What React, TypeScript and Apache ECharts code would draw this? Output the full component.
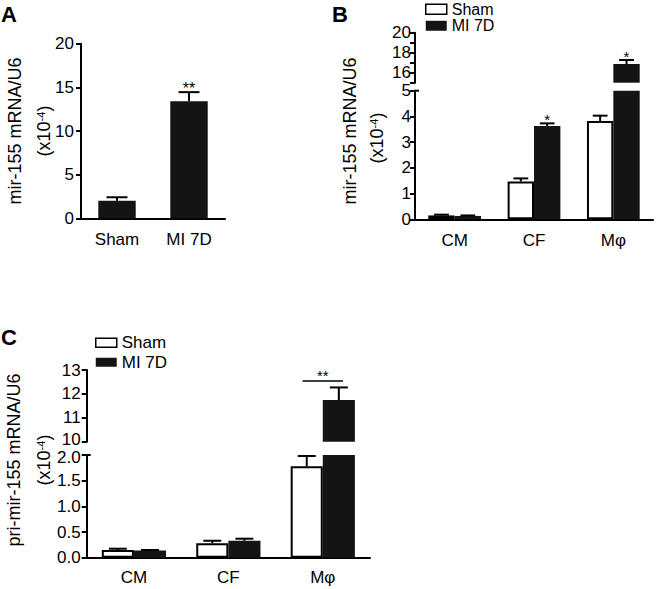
import React, { useEffect, useRef } from 'react';
import * as echarts from 'echarts';

const FONT = '"Liberation Sans", Arial, Helvetica, sans-serif';
const BLACK = '#141414';

// ---------- Panel A data ----------
const aCategories = ['Sham', 'MI 7D'];
const aValues = [2.0, 13.4];
const aErrors = [0.41, 1.05];
const aSig = ['', '**'];
const aTicks = { min: 0, max: 20, step: 5 };

// ---------- Panel B data ----------
const cellTypes = ['CM', 'CF', 'Mφ'];
const bSham = [0.15, 1.47, 3.82];
const bShamErr = [0.03, 0.12, 0.21];
const bMI = [0.13, 3.63, 16.87];
const bMIErr = [0.02, 0.1, 0.4];
const bShamSig = ['', '', ''];
const bMISig = ['', '*', '*'];
const bLowerTicks = { min: 0, max: 5, step: 1 };
const bUpperTicks = { min: 15, max: 20, step: 1, labelEvery: 2 };

// ---------- Panel C data ----------
const cSham = [0.15, 0.28, 1.78];
const cShamErr = [0.025, 0.05, 0.2];
const cMI = [0.14, 0.33, 11.74];
const cMIErr = [0.01, 0.04, 0.53];
const cNoSig = ['', '', ''];
const cBracketSig = ['', '', '**'];
const cLowerTicks = { min: 0, max: 2, step: 0.5 };
const cUpperTicks = { min: 10, max: 13, step: 1 };

// ---------- layout ----------
const GRID_A = { left: 81, top: 43.7, width: 144, height: 174.6 };
const GRID_BU = { left: 415, top: 32.7, width: 238, height: 50 };
const GRID_BL = { left: 415, top: 90.7, width: 238, height: 128.6 };
const GRID_CU = { left: 86.7, top: 370, width: 283.3, height: 71.7 };
const GRID_CL = { left: 86.7, top: 455, width: 283.3, height: 102.7 };
const GAP_A = 0.48;
const GAP_B = 0.335;
const GAP_C = 0.32;
const TICK_FS = 17;
const TITLE_FS = 18;

function yAxis(gridIndex: number, r: any, margin: number, formatter?: any, rich?: any) {
  return {
    type: 'value',
    gridIndex,
    min: r.min,
    max: r.max,
    interval: r.step,
    axisLine: { show: true, lineStyle: { color: '#000', width: 2 } },
    axisTick: { show: true, length: 5, lineStyle: { color: '#000', width: 2 } },
    splitLine: { show: false },
    axisLabel: { color: '#000', fontSize: TICK_FS, fontFamily: FONT, margin, formatter, rich },
  };
}

function xAxis(gridIndex: number, cats: string[], show: boolean, margin: number) {
  return {
    type: 'category',
    gridIndex,
    data: cats,
    show,
    axisLine: { show: true, lineStyle: { color: '#000', width: 2 } },
    axisTick: { show: false },
    axisLabel: { color: '#000', fontSize: TICK_FS, fontFamily: FONT, margin },
  };
}

function errorSeries(o: any) {
  const { axisIndex, values, errs, sigs, slot, nSlots, gap, include, sigSize } = o;
  const data: number[][] = [];
  values.forEach((v: number, i: number) => {
    if (include(v, errs[i])) data.push([i, v, v + errs[i]]);
  });
  return {
    type: 'custom',
    name: 'err',
    xAxisIndex: axisIndex,
    yAxisIndex: axisIndex,
    z: 5,
    silent: true,
    data,
    renderItem: (params: any, api: any) => {
      const i = api.value(0);
      const v = api.value(1);
      const t = api.value(2);
      const band = api.size([1, 0])[0];
      const barW = (band * (1 - gap)) / nSlots;
      const p = api.coord([i, v]);
      const q = api.coord([i, t]);
      const cx = p[0] + (slot - (nSlots - 1) / 2) * barW;
      const half = barW * 0.28;
      const children: any[] = [
        { type: 'line', shape: { x1: cx, y1: p[1], x2: cx, y2: q[1] }, style: { stroke: '#000', lineWidth: 2 } },
        { type: 'line', shape: { x1: cx - half, y1: q[1], x2: cx + half, y2: q[1] }, style: { stroke: '#000', lineWidth: 2 } },
      ];
      const s = sigs[i];
      if (s) {
        children.push({
          type: 'text',
          x: cx,
          y: q[1] - 4,
          style: { text: s, fontSize: sigSize, fontFamily: FONT, fill: '#000', align: 'center', verticalAlign: 'middle' },
        });
      }
      return { type: 'group', children };
    },
  };
}

function bracketSeries(axisIndex: number, sigs: string[], gap: number) {
  const data: number[][] = [];
  sigs.forEach((s, i) => {
    if (s) data.push([i, Math.max(cSham[i] + cShamErr[i], cMI[i] + cMIErr[i])]);
  });
  return {
    type: 'custom',
    name: 'sig',
    xAxisIndex: axisIndex,
    yAxisIndex: axisIndex,
    z: 5,
    silent: true,
    data,
    renderItem: (params: any, api: any) => {
      const i = api.value(0);
      const t = api.value(1);
      const band = api.size([1, 0])[0];
      const barW = (band * (1 - gap)) / 2;
      const p = api.coord([i, t]);
      const y = p[1] - 6.5;
      const half = barW * 0.63;
      return {
        type: 'group',
        children: [
          { type: 'line', shape: { x1: p[0] - half, y1: y, x2: p[0] + half, y2: y }, style: { stroke: '#000', lineWidth: 1.5 } },
          {
            type: 'text',
            x: p[0],
            y: y - 5,
            style: { text: sigs[i], fontSize: 15, fontFamily: FONT, fill: '#000', align: 'center', verticalAlign: 'middle' },
          },
        ],
      };
    },
  };
}

const shamStyle = { color: '#fff', borderColor: '#000', borderWidth: 2 };
const miStyle = { color: BLACK };

function upperOnly(vals: number[], min: number) {
  return vals.map((v) => (v >= min ? v : '-'));
}

function yTitle(x1: number, x2: number, y: number, main: string, y2?: number) {
  return [
    {
      type: 'text',
      x: x1,
      y,
      rotation: Math.PI / 2,
      style: { text: main, fontSize: TITLE_FS, fontFamily: FONT, fill: '#000', align: 'center', verticalAlign: 'middle' },
    },
    {
      type: 'text',
      x: x2,
      y: y2 ?? y,
      rotation: Math.PI / 2,
      style: {
        text: '(x10{sup|-4})',
        fontSize: TITLE_FS,
        fontFamily: FONT,
        fill: '#000',
        align: 'center',
        verticalAlign: 'middle',
        rich: { sup: { fontSize: 11, fontFamily: FONT, fill: '#000', verticalAlign: 'top', lineHeight: 11 } },
      },
    },
  ];
}

function panelLetter(t: string, x: number, y: number) {
  return {
    type: 'text',
    x,
    y,
    style: { text: t, fontSize: 22, fontWeight: 'bold', fontFamily: FONT, fill: '#000', align: 'left', verticalAlign: 'top' },
  };
}

function breakCap(g: any) {
  return {
    type: 'line',
    shape: { x1: g.left, y1: g.top, x2: g.left + 4, y2: g.top },
    style: { stroke: '#000', lineWidth: 2 },
  };
}

export default function App() {
  const ref = useRef<HTMLDivElement>(null);
  useEffect(() => {
    if (!ref.current) return;
    const chart = echarts.init(ref.current, undefined, { renderer: 'svg' });
    const evenOnly = (v: number) => (v % bUpperTicks.labelEvery === 0 ? String(v) : '');
    const cUpperFmt = (v: number) => (v === cUpperTicks.min ? '{lo|' + v + '}' : String(v));
    const cLowerFmt = (v: number) => (v === cLowerTicks.max ? '{hi|' + v.toFixed(1) + '}' : v.toFixed(1));
    const legendData = [
      { name: 'Sham', itemStyle: { color: '#fff', borderColor: '#000', borderWidth: 1.5 } },
      { name: 'MI 7D', itemStyle: { color: BLACK, borderWidth: 0 } },
    ];
    const option: any = {
      animation: false,
      backgroundColor: '#fff',
      grid: [GRID_A, GRID_BU, GRID_BL, GRID_CU, GRID_CL].map((g) => ({ ...g, containLabel: false })),
      xAxis: [
        xAxis(0, aCategories, true, 13),
        xAxis(1, cellTypes, false, 13),
        xAxis(2, cellTypes, true, 13),
        xAxis(3, cellTypes, false, 11),
        xAxis(4, cellTypes, true, 11),
      ],
      yAxis: [
        yAxis(0, aTicks, 7),
        yAxis(1, bUpperTicks, 4, evenOnly),
        yAxis(2, bLowerTicks, 4),
        yAxis(3, cUpperTicks, 6, cUpperFmt, { lo: { fontSize: TICK_FS, fontFamily: FONT, color: '#000', padding: [0, 0, 4, 0] } }),
        yAxis(4, cLowerTicks, 6, cLowerFmt, { hi: { fontSize: TICK_FS, fontFamily: FONT, color: '#000', padding: [4, 0, 0, 0] } }),
      ],
      legend: [
        {
          left: 425,
          top: 1,
          orient: 'vertical',
          padding: 0,
          itemWidth: 21,
          itemHeight: 10,
          itemGap: 0,
          icon: 'rect',
          selectedMode: false,
          data: legendData,
          textStyle: { fontSize: 16, fontFamily: FONT, color: '#000', lineHeight: 16.5 },
        },
        {
          left: 95,
          top: 333,
          orient: 'vertical',
          padding: 0,
          itemWidth: 21,
          itemHeight: 9,
          itemGap: 0,
          icon: 'rect',
          selectedMode: false,
          data: legendData,
          textStyle: { fontSize: TICK_FS, fontFamily: FONT, color: '#000', lineHeight: 19.5 },
        },
      ],
      series: [
        // Panel A
        { type: 'bar', name: 'A', xAxisIndex: 0, yAxisIndex: 0, data: aValues, itemStyle: miStyle, barCategoryGap: GAP_A * 100 + '%' },
        errorSeries({ axisIndex: 0, values: aValues, errs: aErrors, sigs: aSig, slot: 0, nSlots: 1, gap: GAP_A, include: () => true, sigSize: 16 }),
        // Panel B upper
        { type: 'bar', name: 'Sham', xAxisIndex: 1, yAxisIndex: 1, data: upperOnly(bSham, bUpperTicks.min), itemStyle: shamStyle, barGap: '0%', barCategoryGap: GAP_B * 100 + '%' },
        { type: 'bar', name: 'MI 7D', xAxisIndex: 1, yAxisIndex: 1, data: upperOnly(bMI, bUpperTicks.min), itemStyle: miStyle, barGap: '0%', barCategoryGap: GAP_B * 100 + '%' },
        errorSeries({ axisIndex: 1, values: bSham, errs: bShamErr, sigs: bShamSig, slot: 0, nSlots: 2, gap: GAP_B, include: (v: number) => v >= bUpperTicks.min, sigSize: 15 }),
        errorSeries({ axisIndex: 1, values: bMI, errs: bMIErr, sigs: bMISig, slot: 1, nSlots: 2, gap: GAP_B, include: (v: number) => v >= bUpperTicks.min, sigSize: 15 }),
        // Panel B lower
        { type: 'bar', name: 'Sham', xAxisIndex: 2, yAxisIndex: 2, data: bSham, itemStyle: shamStyle, barGap: '0%', barCategoryGap: GAP_B * 100 + '%' },
        { type: 'bar', name: 'MI 7D', xAxisIndex: 2, yAxisIndex: 2, data: bMI, itemStyle: miStyle, barGap: '0%', barCategoryGap: GAP_B * 100 + '%' },
        errorSeries({ axisIndex: 2, values: bSham, errs: bShamErr, sigs: bShamSig, slot: 0, nSlots: 2, gap: GAP_B, include: (v: number, e: number) => v + e <= bLowerTicks.max, sigSize: 15 }),
        errorSeries({ axisIndex: 2, values: bMI, errs: bMIErr, sigs: bMISig, slot: 1, nSlots: 2, gap: GAP_B, include: (v: number, e: number) => v + e <= bLowerTicks.max, sigSize: 15 }),
        // Panel C upper
        { type: 'bar', name: 'Sham', xAxisIndex: 3, yAxisIndex: 3, data: upperOnly(cSham, cUpperTicks.min), itemStyle: shamStyle, barGap: '0%', barCategoryGap: GAP_C * 100 + '%' },
        { type: 'bar', name: 'MI 7D', xAxisIndex: 3, yAxisIndex: 3, data: upperOnly(cMI, cUpperTicks.min), itemStyle: miStyle, barGap: '0%', barCategoryGap: GAP_C * 100 + '%' },
        errorSeries({ axisIndex: 3, values: cMI, errs: cMIErr, sigs: cNoSig, slot: 1, nSlots: 2, gap: GAP_C, include: (v: number) => v >= cUpperTicks.min, sigSize: 15 }),
        bracketSeries(3, cBracketSig, GAP_C),
        // Panel C lower
        { type: 'bar', name: 'Sham', xAxisIndex: 4, yAxisIndex: 4, data: cSham, itemStyle: shamStyle, barGap: '0%', barCategoryGap: GAP_C * 100 + '%' },
        { type: 'bar', name: 'MI 7D', xAxisIndex: 4, yAxisIndex: 4, data: cMI, itemStyle: miStyle, barGap: '0%', barCategoryGap: GAP_C * 100 + '%' },
        errorSeries({ axisIndex: 4, values: cSham, errs: cShamErr, sigs: cNoSig, slot: 0, nSlots: 2, gap: GAP_C, include: (v: number, e: number) => v + e <= cLowerTicks.max, sigSize: 15 }),
        errorSeries({ axisIndex: 4, values: cMI, errs: cMIErr, sigs: cNoSig, slot: 1, nSlots: 2, gap: GAP_C, include: (v: number, e: number) => v + e <= cLowerTicks.max, sigSize: 15 }),
      ],
      graphic: [
        panelLetter('A', 1, 3),
        panelLetter('B', 332, 3),
        panelLetter('C', 1, 326),
        ...yTitle(15, 44, 131, 'mir-155 mRNA/U6'),
        ...yTitle(350, 377, 131, 'mir-155 mRNA/U6', 138),
        ...yTitle(14, 44, 460, 'pri-mir-155 mRNA/U6'),
        breakCap(GRID_BL),
        breakCap(GRID_CL),
      ],
    };
    chart.setOption(option);
    return () => chart.dispose();
  }, []);
  return (
    <div
      ref={ref}
      style={{ position: 'fixed', left: 0, top: 0, width: 656, height: 589, background: '#fff' }}
    />
  );
}
